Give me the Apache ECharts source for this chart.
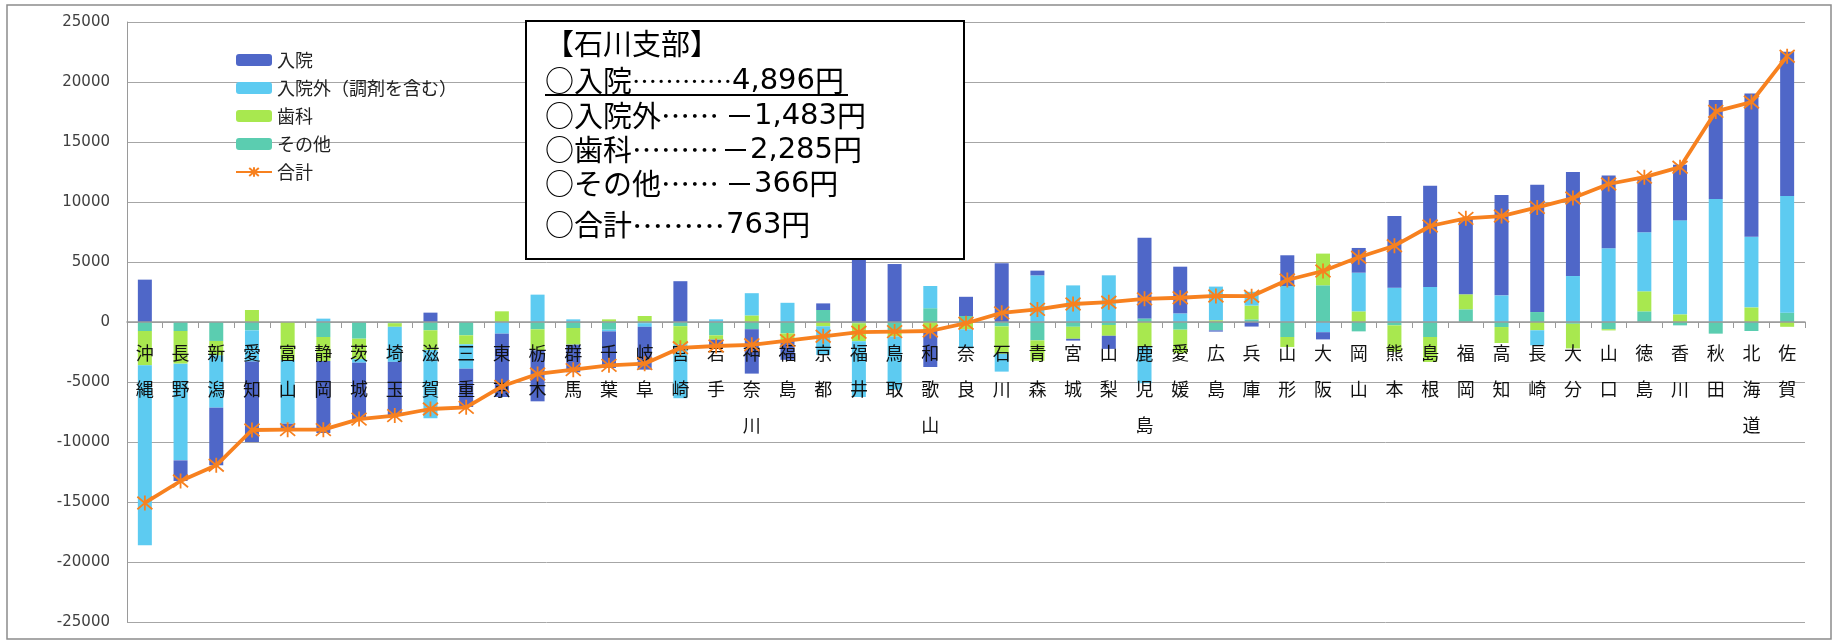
<!DOCTYPE html>
<html>
<head>
<meta charset="utf-8">
<script src="https://cdn.jsdelivr.net/npm/echarts@6/dist/echarts.min.js"></script>
<style>
html,body{margin:0;padding:0;background:#fff;}
#chart{width:1835px;height:640px;}
</style>
</head>
<body>
<div id="chart"></div>
<script>
const categories = ['沖縄','長野','新潟','愛知','富山','静岡','茨城','埼玉','滋賀','三重','東京','栃木','群馬','千葉','岐阜','宮崎','岩手','神奈川','福島','京都','福井','鳥取','和歌山','奈良','石川','青森','宮城','山梨','鹿児島','愛媛','広島','兵庫','山形','大阪','岡山','熊本','島根','福岡','高知','長崎','大分','山口','徳島','香川','秋田','北海道','佐賀'];
const inpatient  = [3530,-1720,-4800,-6700,-500,-6000,-4700,-4440,780,-3190,-5280,-4250,-2300,-3050,-3570,3400,-750,-3700,-1600,550,5400,4830,-3150,1600,4896,390,-150,-1090,6720,3890,-100,-380,2560,-600,2060,5970,8440,6330,8360,10610,8670,6060,4610,4640,8250,11940,12030];
const outpatient = [-15000,-8060,-4360,-2600,-5280,280,-300,-2920,-5690,-2030,-970,2280,220,-140,-300,-4500,220,1850,1600,-2380,-4650,-4430,1850,-1600,-1483,3890,3050,3890,-3000,720,2800,1150,3000,-850,3220,2860,2920,0,2220,-1250,3830,6140,4920,7830,10250,5890,9720];
const dental     = [-2860,-2720,-1200,1000,-3190,-2000,-1700,-300,-1650,-750,890,-1750,-1390,220,500,-1500,-360,550,-600,-360,-1500,-300,-600,-600,-2285,-1700,-1000,-900,-2100,-1950,150,1150,-830,2640,890,-2200,-2080,1250,-1330,-690,-2050,-100,1670,640,0,1220,-400];
const other      = [-750,-750,-1580,-700,0,-1250,-1390,-100,-690,-1110,0,-610,-500,-640,-100,-350,-1110,-600,-950,1000,-100,-900,1150,500,-366,-1530,-400,-250,300,-640,-700,220,-1250,3060,-780,-280,-1250,1060,-420,830,-150,-600,890,-280,-970,-750,780];
const total      = [-15080,-13250,-11940,-9000,-8970,-8970,-8090,-7800,-7250,-7110,-5360,-4330,-3970,-3610,-3470,-2150,-2000,-1900,-1550,-1190,-850,-800,-750,-100,763,1050,1500,1650,1930,2020,2170,2150,3500,4250,5400,6350,8000,8640,8830,9550,10330,11500,12070,12900,17550,18330,22150];
const yTicks = { min: -25000, max: 25000, interval: 5000 };

const C_IN = '#4F67C8', C_OUT = '#5DCBF1', C_DEN = '#A8E84F', C_OTH = '#5BCDB0', C_TOT = '#F7811F';
const NAME_IN = '入院', NAME_OUT = '入院外（調剤を含む）', NAME_DEN = '歯科', NAME_OTH = 'その他', NAME_TOT = '合計';
const STAR = 'path://M0,0L10,10M10,0L0,10M5,-1L5,11';
const JP = '"Noto Sans CJK JP","Noto Sans",sans-serif';
const NUM = '"DejaVu Sans","Noto Sans CJK JP",sans-serif';

const GRID = { left: 127, right: 30, top: 22, bottom: 18 };
const chart = echarts.init(document.getElementById('chart'));
const plotH = 640 - GRID.top - GRID.bottom;
const zeroOffset = -plotH * (0 - yTicks.min) / (yTicks.max - yTicks.min);

const RICH = {
  a: { font: '29px ' + JP, fill: '#000' },
  m: { font: '29px ' + JP, fill: '#000' },
  v: { font: '29px ' + NUM, fill: '#000' },
  y: { font: '29px ' + JP, fill: '#000' },
  d4: { font: '25px ' + JP, fill: '#000', width: 100 },
  d2: { font: '29px ' + JP, fill: '#000', width: 64 },
  d3a: { font: '29px ' + JP, fill: '#000', width: 89 },
  d3b: { font: '31px ' + JP, fill: '#000', width: 94 }
};
function boxLine(y, txt) {
  return { type: 'text', x: 545, y: y, z: 101, style: { text: txt, verticalAlign: 'middle', rich: RICH, fill: '#000' } };
}

const barCommon = { type: 'bar', stack: 'all', barWidth: 14, z: 2 };
const option = {
  animation: false,
  backgroundColor: '#fff',
  grid: Object.assign({ containLabel: false }, GRID),
  legend: {
    orient: 'vertical', left: 230, top: 46,
    itemWidth: 36, itemHeight: 12, itemGap: 10,
    data: [NAME_IN, NAME_OUT, NAME_DEN, NAME_OTH, NAME_TOT],
    textStyle: { fontSize: 18, lineHeight: 18, color: '#222', fontFamily: JP },
    z: 30
  },
  xAxis: {
    type: 'category', data: categories, z: 10,
    offset: zeroOffset,
    axisLine: { onZero: false, lineStyle: { color: '#9a9a9a', width: 1.5 } },
    axisTick: { show: true, length: 6, lineStyle: { color: '#9a9a9a' } },
    axisLabel: {
      interval: 0, margin: 13, fontSize: 18, lineHeight: 36, color: '#111', fontFamily: JP,
      formatter: v => v.split('').join('\n')
    },
    splitLine: { show: false }
  },
  yAxis: {
    type: 'value', min: yTicks.min, max: yTicks.max, interval: yTicks.interval,
    axisLine: { show: true, lineStyle: { color: '#9a9a9a' } },
    axisTick: { show: false },
    axisLabel: { fontSize: 15, color: '#404040', margin: 17, fontFamily: '"DejaVu Sans",sans-serif', formatter: v => String(v) },
    splitLine: { show: true, lineStyle: { color: '#a6a6a6', width: 1 } }
  },
  series: [
    Object.assign({ name: NAME_OTH, data: other, itemStyle: { color: C_OTH } }, barCommon),
    Object.assign({ name: NAME_DEN, data: dental, itemStyle: { color: C_DEN } }, barCommon),
    Object.assign({ name: NAME_OUT, data: outpatient, itemStyle: { color: C_OUT } }, barCommon),
    Object.assign({ name: NAME_IN, data: inpatient, itemStyle: { color: C_IN } }, barCommon),
    {
      name: NAME_TOT, type: 'line', data: total, z: 20,
      symbol: STAR, symbolSize: 15,
      lineStyle: { color: C_TOT, width: 3.8 },
      itemStyle: { color: C_TOT, borderColor: C_TOT, borderWidth: 1.8 }
    }
  ],
  graphic: [
    { type: 'rect', shape: { x: 7, y: 5, width: 1824, height: 634 }, style: { fill: null, stroke: '#8c8c8c', lineWidth: 1.5 }, z: 1, silent: true },
    { type: 'rect', shape: { x: 526, y: 21, width: 438, height: 238 }, style: { fill: '#fff', stroke: '#000', lineWidth: 2 }, z: 100 },
    { type: 'text', x: 545, y: 44, z: 101, style: { text: '【石川支部】', font: '29px ' + JP, fill: '#000', verticalAlign: 'middle' } },
    boxLine(81, '{a|○入院}{d4|…………}{v|4,896}{y|円}'),
    { type: 'line', shape: { x1: 545, y1: 95, x2: 848, y2: 95 }, style: { stroke: '#000', lineWidth: 2 }, z: 101 },
    boxLine(116, '{a|○入院外}{d2|……}{m|－}{v|1,483}{y|円}'),
    boxLine(150, '{a|○歯科}{d3a|………}{m|－}{v|2,285}{y|円}'),
    boxLine(184, '{a|○その他}{d2|……}{m|－}{v|366}{y|円}'),
    boxLine(225, '{a|○合計}{d3b|………}{v|763}{y|円}')
  ]
};
chart.setOption(option);
</script>
</body>
</html>
